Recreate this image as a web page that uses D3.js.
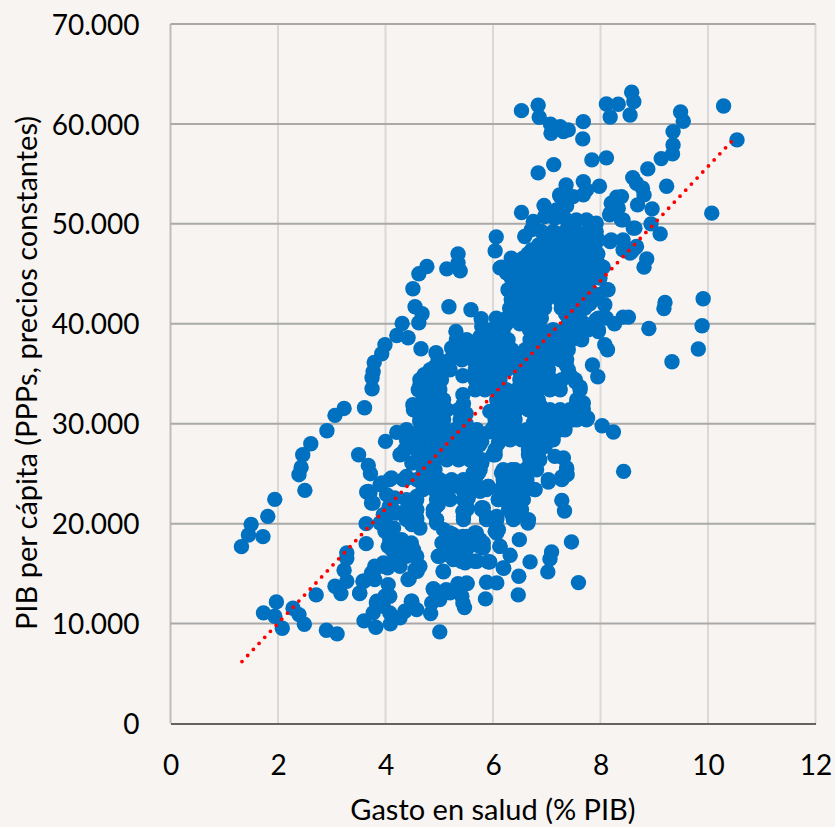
<!DOCTYPE html>
<html>
<head>
<meta charset="utf-8">
<script src="https://cdn.jsdelivr.net/npm/d3@7"></script>
<style>
body{margin:0;background:#f7f4f1;}
text{font-family:Lato,"Open Sans",sans-serif;fill:#000;}
</style>
</head>
<body>
<div id="graph"></div>
<script>
var width=835;
var height=827;

var xTicks=[0,2,4,6,8,10,12];
var yTicks=[0,10000,20000,30000,40000,50000,60000,70000];
var xTitle='Gasto en salud (% PIB)';
var yTitle='PIB per cápita (PPPs, precios constantes)';

// tendencia lineal
var trendX=[1.33,10.5];
var trendY=[6200,58600];

// paises sueltos, leidos uno a uno: [gasto, pib]
var outerPoints=[
[4.77,45730],[4.62,45000],[4.51,43500],[4.55,41700],[4.68,41000],[4.62,40100],[4.31,40030],[4.21,38830],[4.42,38600],[4.66,37500],
[3.99,37900],[3.93,37000],[3.79,36130],[3.77,35200],[3.75,34600],[3.75,33500],[5.35,47000],[5.35,46100],[5.39,45300],[5.14,45500],
[5.18,41700],[5.59,41400],[5.78,40500],[6.06,48700],[6.04,47300],[6.13,45600],
[3.23,31530],[3.06,30830],[3.61,31600],[2.91,29300],[2.61,28000],[2.46,26900],[2.43,25630],[2.39,24900],[2.50,23330],[1.94,22430],
[1.81,20730],[1.50,19930],[1.45,18870],[1.72,18700],[1.32,17700],[3.50,26900],[3.68,25830],[3.72,25000],[3.65,23170],[3.74,22070],
[3.64,20000],[3.64,18000],[3.28,17070],[3.28,16500],[3.23,15330],[3.28,14230],[3.06,13730],[3.17,13000],[2.71,12870],[3.52,13000],
[1.97,12170],[1.73,11070],[1.94,10730],[2.08,9530],[2.28,11530],[2.39,10900],[2.49,9930],[2.90,9330],[3.10,8970],[5.01,9170],
[3.60,10270],[3.82,9630],[4.09,9970],[4.27,10570],[3.84,12230],
[6.53,61330],[6.84,61870],[6.86,60670],[7.07,59970],[7.08,59070],[7.25,59730],[7.31,59230],[7.40,59400],[7.68,60230],[7.67,58500],
[8.11,62000],[8.33,61970],[8.18,60700],[8.58,63170],[8.62,62230],[8.55,60900],[10.29,61800],[10.54,58400],[9.49,61200],[9.54,60270],
[9.35,59230],[9.35,57900],[9.34,57000],[9.13,56530],[8.88,55500],[7.84,56400],[8.11,56600],[7.13,55930],[6.84,55100],[9.23,53770],
[8.60,54630],[8.67,54070],[8.78,53570],[8.81,52900],[8.69,51900],[8.96,51500],[8.94,50000],[9.11,49000],[10.07,51070],[8.86,46500],
[8.81,45670],[9.91,42500],[9.20,42130],[9.18,41530],[8.52,40670],[8.42,40670],[8.26,40000],[8.90,39530],[9.89,39800],[9.82,37470],
[9.33,36200],[8.08,37900],[8.13,37400],[7.85,35870],[7.95,34700],[7.62,33670],[7.36,35900],[7.43,34900],[7.53,34230],[7.56,32230],
[7.68,32070],[8.14,43400],[8.08,41900],[7.92,40400],[7.96,39230],[6.53,51130],[6.95,51830],[7.36,53900],[7.68,54230],[7.98,53770],
[7.25,52730],[7.49,52730],[7.74,53400],[7.37,51800],[8.30,52670],[8.39,52730],[8.24,51900],[8.33,51570],[8.18,51070],[8.42,50400],
[8.64,49570],[8.18,48230],[8.42,47400],[8.55,47070],[8.64,47570],
[6.75,50230],[7.18,51400],[7.24,52900],[7.33,51730],[7.68,52900],[7.55,50400],[7.74,50400],[7.92,50070],[7.37,50400],[7.15,50570],[6.96,50730],
[8.20,52070],[8.17,50900],[8.39,50400],[8.61,49570],[8.20,48400],[8.42,48400],[8.58,47230],[8.67,47730],[6.59,48730],[6.71,49400],
[8.03,29800],[8.24,29170],[8.43,25230],[7.76,30570],[7.62,31570],[7.46,18170],[7.59,14100],[7.09,17170],[7.06,16470],[7.02,15170],
[6.69,16170],[6.49,18400],[6.48,14730],[6.47,12870],[6.07,14070],[5.88,14130],[5.86,12470],[6.20,15530],[5.93,16170],[6.32,16830],
[6.13,17730],[7.28,22330],[7.33,21270],[7.38,24900],[7.28,24670],[7.03,24170],[7.37,25570],[7.31,26570],[7.15,26730]
];

// parte baja de la nube
var lowerPoints=[
[6.65,20070],[6.47,20900],[6.36,20830],[6.07,20570],[6.04,19230],[5.82,21570],[6.10,22400],[5.91,23730],[6.78,23400],[6.56,22400],
[6.50,21400],[6.38,22400],[6.29,23230],[6.63,24070],[6.35,25400],[6.16,25070],[6.38,24570],[6.66,25230],[6.69,26070],[6.84,26400],
[6.04,26900],[6.10,28070],[6.66,26900],[6.53,29070],[6.69,28070],[6.97,27730],[7.09,28570],[6.78,28230],[6.00,29570],[6.19,29070],
[6.38,29070],[5.94,31230],[6.13,31400],[6.32,30900],[6.75,30070],[6.94,30230],[7.25,30400],[7.34,29400],[7.49,30400],[7.12,31230],
[6.56,31730],[6.87,31900],[5.79,28230],[5.79,26070],[5.76,18400],[5.82,17570],
[4.00,28230],[4.21,29130],[4.39,29230],[4.42,28070],[4.30,26970],[4.52,31730],[4.77,31000],[4.64,30230],[4.70,28730],[4.95,30400],
[4.89,28730],[5.66,29230],[5.76,28230],[6.00,26900],[5.76,26070],[5.73,25070],[5.45,27730],[5.23,27730],[5.08,26730],[4.77,26400],
[4.49,26070],[4.08,24400],[4.33,24400],[3.90,23900],[3.71,23070],[4.02,22900],[3.77,22070],[4.07,21730],[4.21,21070],[4.58,21400],
[4.64,19570],[4.95,21730],[4.98,22730],[5.45,20730],[5.51,21730],[5.26,23730],[4.95,24070],[4.70,23730],[5.45,23230],[5.76,23230],
[5.79,21570],[5.88,20730],[6.07,20730],[6.07,19070],[5.66,19070],[5.51,18730],[5.26,18900],[5.08,19400],[4.95,20070],[5.05,18070],
[5.14,16900],[5.01,16730],[5.26,16400],[5.48,16070],[5.70,16230],[5.94,16170],[5.57,18070],[5.82,18070],[5.08,15170],[5.52,14000],
[5.35,14000],[5.20,13070],[5.01,12730],[4.89,13500],[4.86,12070],[4.84,11000],[5.42,12730],[5.47,11600],[4.59,15230],[4.44,14470],
[4.64,15730],[4.27,15730],[4.04,15570],[3.96,16070],[3.80,15730],[3.74,15070],[3.80,14400],[3.60,14230],[4.05,13900],[4.08,12730],
[3.96,11730],[4.08,11070],[3.77,11070],[4.49,12230],[4.58,11400],[4.36,11230],[4.33,17730],[4.15,18400],[4.52,17400],[4.39,16730],
[4.18,16730],[4.58,16730],[4.05,17730],[4.15,19570],[3.99,19230],[3.90,20070],[4.02,20730],[4.49,19900],[4.58,20570],[4.89,21070],
[5.20,19070],[5.26,17730],[5.37,17400],[4.51,31900],[4.64,33800],[4.72,34900],[4.92,35700],[4.94,37100],[5.23,37570],[5.31,39230],
[5.54,38230],[5.44,34800],[5.44,32900],[5.79,39730],[5.76,38730],
[4.27,26900],[4.42,27730],[4.70,26730],[4.92,27400],[5.13,26730],[5.35,27070],[5.57,27070],[5.75,27900],[5.79,26070],[5.63,25070],
[5.91,23730],[4.89,25400],[5.20,24070],[5.01,24070],[4.79,24070],[4.61,24400],[4.39,24730],[4.11,24570],[3.93,24070],[3.68,23230],
[4.95,23070],[4.98,21900],[4.95,20400],[4.58,22730],[4.55,21570],[4.17,22570],[4.17,21230],[3.96,20900],[4.48,20400],[3.99,19730],
[4.08,18400],[4.30,18400],[4.48,18070],[4.14,17230],[4.36,17070],[4.55,16730],[4.55,15400],[4.42,14400],[3.96,15730],[3.77,15070],
[3.58,14230],[3.52,13070],[3.99,12730],[3.83,12070],[4.48,12230],[4.89,13400],[5.07,15230],[5.26,18730],[4.98,16730],[5.17,17070],
[5.41,16230],[5.66,16230],[5.91,16170],[5.51,17400],[5.75,17730],[5.69,19070],[5.44,18730],[5.44,21230],[5.54,22570],[5.79,21570],
[6.00,20400],[6.10,19400],[6.13,17730],[6.19,15570],[5.44,12070],[5.35,13900],[5.51,14070],[5.13,13400],[5.01,12400],
[5.45,32000],[5.50,31000],[5.50,30000],[5.50,29400],[5.94,29200]
];

// parte central, por filas: pib de la fila y gastos de esa fila
var rowGdp=[49230,48900,48400,47900,47400,47000,46570,46100,45670,45100,44570,44000,43400,42900,42400,42000,41570,41000,40570,40000,39400,38400,37400,36400,35400,34400,33400,32400,31400,30400,29400,28400,27400,26400,25400,24400,23400,22400,21400,20400];
var rowSpend=[
[6.90,7.12,7.34,7.55,7.77,7.92],
[7.00,7.20,7.45,7.65,7.85],
[7.12,7.34,7.55,7.77,7.96],
[6.85,7.05,7.25,7.45,7.70,7.90],
[6.72,6.93,7.15,7.37,7.58,7.80],
[6.65,6.85,7.05,7.25,7.50,7.75,7.95],
[6.34,6.56,6.78,6.99,7.21,7.43,7.65,7.83],
[6.45,6.65,6.90,7.10,7.30,7.55,7.75,7.95],
[6.16,6.37,6.59,6.81,7.03,7.24,7.46,7.68,7.89,8.05],
[6.25,6.45,6.70,6.90,7.10,7.35,7.55,7.75,7.95],
[6.34,6.56,6.78,6.99,7.21,7.43,7.65,7.86,7.99],
[6.40,6.65,6.85,7.05,7.30,7.50,7.75],
[6.28,6.50,6.72,6.93,7.15,7.37,7.58,7.80,8.11],
[6.40,6.60,6.85,7.05,7.30,7.50,7.70,7.95],
[6.34,6.56,6.78,6.99,7.24,7.43,7.65,7.86],
[6.45,6.65,6.85,7.30,7.55,7.80],
[6.31,6.53,6.75,6.96,7.27,7.49,7.71],
[6.40,6.60,6.80,7.35,7.55],
[6.06,6.25,6.47,6.68,6.90,7.40,7.61,7.96,8.11],
[6.25,6.50,6.75,7.40,7.50,7.70,7.90],
[5.97,6.19,6.68,6.90,7.12,7.34,7.55,7.77,7.96],
[5.32,5.51,5.73,5.91,6.13,6.28,6.69,6.87,7.09,7.28,7.46,7.65],
[5.35,5.54,5.76,5.94,6.16,6.35,6.60,6.78,7.00,7.18,7.40],
[4.98,5.20,5.42,5.63,5.82,6.04,6.22,6.44,6.66,6.84,7.06,7.25,7.37],
[4.83,5.01,5.20,5.67,5.85,6.07,6.25,6.47,6.66,6.84,7.03,7.40],
[4.64,4.83,5.04,5.67,5.88,6.13,6.50,6.69,6.87,7.09,7.28,7.53],
[4.61,4.80,5.01,5.67,5.85,6.07,6.25,6.44,6.66,6.84,7.06,7.25,7.62],
[4.70,4.89,5.08,6.07,6.25,6.44,6.66,6.84,7.56],
[4.52,4.74,4.92,5.14,5.36,6.07,6.25,6.44,6.66,6.84,7.06,7.25,7.43,7.68],
[4.64,4.86,5.08,5.39,6.04,6.22,6.41,6.78,6.97,7.18,7.37,7.56,7.74],
[4.39,4.64,4.86,5.08,5.29,5.70,6.04,6.22,6.44,6.63,6.84,7.03,7.25],
[4.39,4.61,4.95,5.17,5.39,5.63,6.13,6.32,6.53,6.75,6.94,7.12],
[4.36,4.58,4.80,5.01,5.23,5.45,5.67,6.04,6.66,6.87],
[4.70,4.92,5.14,5.36,5.57,5.79,6.69,6.87],
[4.70,4.92,5.76,6.19,6.41,6.60,6.81,7.37],
[4.36,4.58,4.80,5.01,5.23,5.45,5.67,6.19,6.41,6.63,7.03,7.28],
[4.70,4.92,5.14,5.60,5.88,6.13,6.38,6.60,6.78],
[4.39,4.58,4.95,5.20,5.45,6.10,6.32,6.56],
[4.39,4.58,4.89,5.51,5.79,6.29,6.53],
[4.39,4.58,4.95,5.45,5.88,6.07,6.38,6.66]
];

var points=outerPoints.concat(lowerPoints);
rowGdp.forEach(function(g,i){
	rowSpend[i].forEach(function(s){points.push([s,g]);});
});

var svg=d3.select('#graph').append('svg').attr('width',width).attr('height',height).style('display','block');

var x=d3.scaleLinear().domain([0,12]).range([170.5,815.5]);
var y=d3.scaleLinear().domain([0,70000]).range([723.5,24]);
var fmt=function(v){return d3.format(',')(v).replace(/,/g,'.');};

svg.selectAll('.vgrid').data(xTicks).enter().append('line').attr('class','vgrid')
	.attr('x1',function(d){return x(d);}).attr('x2',function(d){return x(d);})
	.attr('y1',y(70000)).attr('y2',y(0))
	.attr('stroke',function(d){return d==0?'#bdbdbd':'#d9d9d9';}).attr('stroke-width',2);
svg.selectAll('.hgrid').data(yTicks.slice(1)).enter().append('line').attr('class','hgrid')
	.attr('x1',x(0)).attr('x2',x(12))
	.attr('y1',function(d){return y(d);}).attr('y2',function(d){return y(d);})
	.attr('stroke','#a9a9a9').attr('stroke-width',2);

var xAxis=svg.append('g').attr('transform','translate(0,'+y(0)+')')
	.call(d3.axisBottom(x).tickValues(xTicks).tickFormat(d3.format('d')).tickSize(0).tickPadding(31.5));
xAxis.select('.domain').attr('stroke','#333').attr('stroke-width',1.5);
xAxis.selectAll('text').style('font-size','28px');
var yAxis=svg.append('g').attr('transform','translate('+x(0)+',0)')
	.call(d3.axisLeft(y).tickValues(yTicks).tickFormat(fmt).tickSize(0).tickPadding(31));
yAxis.select('.domain').remove();
yAxis.selectAll('text').attr('dy','.36em').style('font-size','28px');

svg.append('g').selectAll('circle').data(points).enter().append('circle')
	.attr('cx',function(d){return x(d[0]);})
	.attr('cy',function(d){return y(d[1]);})
	.attr('r',7.7)
	.attr('fill','#0070c0');

var trendLine=d3.line().x(function(d){return x(d);}).y(function(d,i){return y(trendY[i]);});
svg.append('path').attr('d',trendLine(trendX))
	.attr('fill','none').attr('stroke','#ff0000').attr('stroke-width',3.8)
	.attr('stroke-linecap','round').attr('stroke-dasharray','0 8.3');

svg.append('text').attr('x',493).attr('y',820).attr('text-anchor','middle').style('font-size','29px').text(xTitle);
svg.append('text').attr('transform','translate(37,373) rotate(-90)').attr('text-anchor','middle').style('font-size','29px').text(yTitle);
</script>
</body>
</html>
